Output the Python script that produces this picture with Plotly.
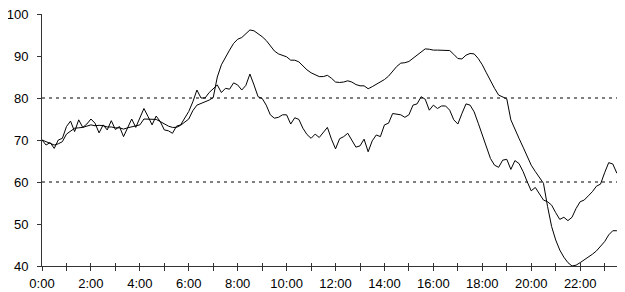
import plotly.graph_objects as go

# 10-minute samples, 0:00 .. 23:50
times = [f"{m // 60}:{m % 60:02d}" for m in range(0, 24 * 60, 10)]
hours = [m / 60 for m in range(0, 24 * 60, 10)]

smooth = [
    70, 69.6, 69.2, 68.8, 69.1, 69.6, 71.4, 72, 72.8, 72.9, 73, 73.3,
    73.6, 73.4, 73.5, 73.4, 73.1, 73.1, 72.9, 72.9, 72.6, 72.9, 73.1, 73.4,
    73.6, 75, 75, 74.9, 74.9, 74.4, 73.8, 73.3, 73, 73, 73.5, 74.2,
    75, 77, 78.3, 78.7, 79.1, 79.5, 80.1, 85, 87.9, 89.8, 91.4, 93,
    94, 94.4, 95.2, 96.2, 96, 95.4, 94.6, 93.7, 92.4, 91.2, 90.5, 90.2,
    89.8, 89, 89, 88.6, 87.6, 86.7, 86, 85.6, 85.1, 85.1, 85.4, 84.7,
    83.8, 83.7, 83.8, 84.1, 83.8, 83.2, 82.9, 82.9, 82.2, 82.7, 83.3, 83.7,
    84.4, 85.2, 86.5, 87.5, 88.3, 88.4, 88.7, 89.4, 90.2, 91, 91.7, 91.6,
    91.4, 91.4, 91.4, 91.4, 91.3, 90.4, 89.4, 89.3, 90.2, 90.6, 90.5, 89.4,
    87.9, 86, 84, 82.3, 80.7, 80.3, 79.8, 74.8, 72.4, 70.4, 68.3, 66.2,
    64, 62.5, 61.1, 59.7, 54.2, 49.4, 46.2, 43.8, 42.1, 40.8, 40, 40.2,
    40.8, 41.4, 42.1, 42.8, 43.6, 44.6, 45.8, 47.4, 48.4, 48.4, 48.6, 49,
]

jagged = [
    70, 68.8, 69.4, 68, 70, 70.4, 73.2, 74.5, 72, 74.8, 73, 73.8,
    75, 74, 71.7, 73.6, 72.4, 74.6, 72.5, 73.2, 70.8, 72.8, 75, 73,
    75.2, 77.5, 75.6, 73.6, 75.7, 74.4, 72.4, 72.2, 71.6, 73.3, 73.6, 75.2,
    76.8, 79.1, 81.9, 80, 80, 81.3, 82.3, 83.1, 81.3, 82.3, 82.1, 83.6,
    83.1, 81.9, 83, 85.7, 83.1, 80.3, 79.9, 78.3, 76, 75.2, 75.4, 76,
    76, 73.8, 75.3, 74.9, 72.8, 71.3, 70.4, 71.4, 70.6, 71.7, 73, 70.2,
    67.9, 70.3, 70.8, 71.6, 70, 68.3, 68.6, 70.2, 67.2, 69.8, 71.2, 70.8,
    73.6, 74, 76.3, 76.1, 76, 75.4, 76, 78.3, 78.6, 80.3, 79.7, 77.1,
    78.3, 77.5, 78.1, 78.1, 77.1, 74.8, 73.8, 76.3, 78.6, 78.3, 76.7, 74,
    71.2, 68.4, 65.6, 64, 63.5, 65.2, 65.4, 63, 65.1, 64.4, 62.5, 60.1,
    57.9, 58.7, 57.1, 55.7, 55.3, 54.5, 52.7, 51.1, 51.6, 50.8, 51.6, 53.7,
    55.3, 55.7, 56.7, 57.7, 59, 59.5, 62.2, 64.6, 64.3, 62.1, 61.4, 63.2,
]

tick_hours = list(range(0, 24))
tick_text = [f"{h}:00" if h % 2 == 0 else "" for h in tick_hours]
y_ticks = [40, 50, 60, 70, 80, 90, 100]
ref_lines = [60, 80]

line_style = dict(color="black", width=1)
axis_color = "#333333"
font = dict(family="Liberation Sans, Arial, sans-serif", size=13, color="black")

fig = go.Figure()
fig.add_trace(go.Scatter(x=hours, y=smooth, mode="lines", line=line_style,
                         text=times, hoverinfo="text+y", xaxis="x", yaxis="y"))
fig.add_trace(go.Scatter(x=hours, y=jagged, mode="lines", line=line_style,
                         text=times, hoverinfo="text+y", xaxis="x2", yaxis="y"))

for v in ref_lines:
    fig.add_shape(type="line", xref="paper", x0=0, x1=1, yref="y", y0=v, y1=v,
                  line=dict(color="black", width=1, dash="3px,4px"), layer="below")

xr = [0, hours[-1]]
# page body has an 8px margin, so the figure is sized to fit the 625x292 window
fig.update_layout(
    width=617, height=284,
    margin=dict(l=34, r=0, t=6, b=26),
    paper_bgcolor="white", plot_bgcolor="white",
    showlegend=False,
    font=font,
    xaxis=dict(range=xr, tickvals=tick_hours, ticktext=tick_text,
               ticks="outside", ticklen=4, tickcolor=axis_color, tickwidth=1,
               showline=True, linecolor=axis_color, linewidth=1,
               showgrid=False, zeroline=False, tickangle=0,
               ticklabelstandoff=1, automargin=False,
               ticklabeloverflow="allow"),
    xaxis2=dict(range=xr, overlaying="x", anchor="y", side="bottom",
                tickvals=tick_hours, ticks="inside", ticklen=3,
                tickcolor=axis_color, showticklabels=False,
                showline=False, showgrid=False, zeroline=False),
    yaxis=dict(range=[40, 100], tickvals=y_ticks,
               ticks="outside", ticklen=4, tickcolor=axis_color,
               showline=True, linecolor=axis_color, linewidth=1,
               showgrid=False, zeroline=False, ticklabelstandoff=6,
               automargin=False, ticklabeloverflow="allow"),
)

fig.write_html("out.html", config={"displayModeBar": False})
